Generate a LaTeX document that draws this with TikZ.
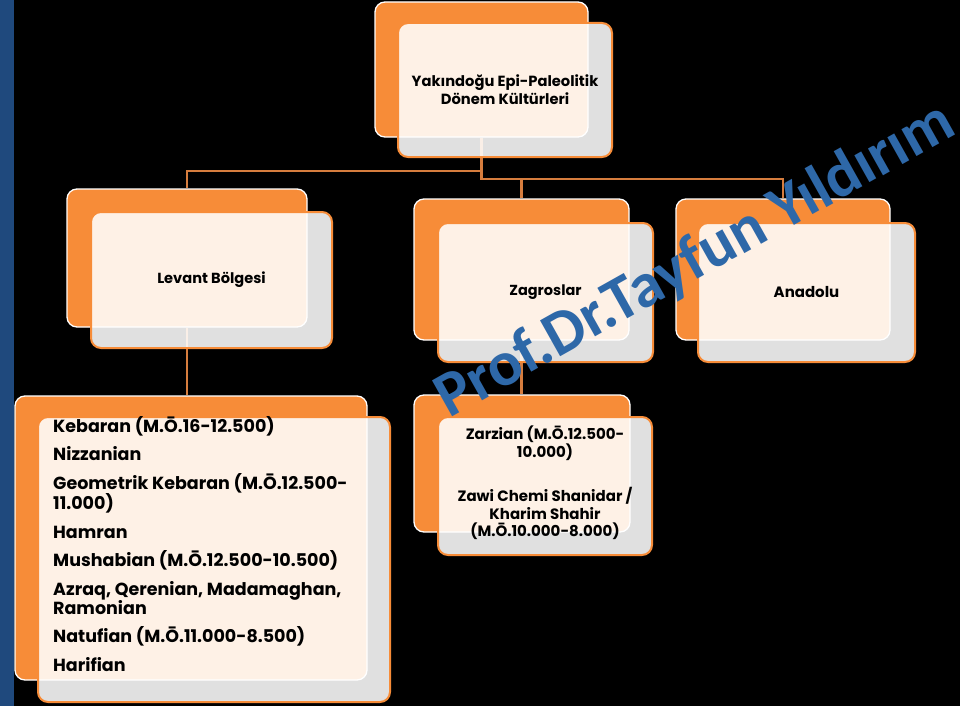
\documentclass[tikz,border=0pt]{standalone}
\usepackage{fontspec}
\setmainfont{Poppins}
\newfontfamily\wmfont{Carlito}
\definecolor{orng}{RGB}{247,140,56}
\definecolor{lineor}{RGB}{214,125,62}
\definecolor{wm}{RGB}{46,104,168}
\definecolor{barblue}{RGB}{31,73,125}
\pgfdeclarelayer{connlayer}
\pgfsetlayers{connlayer,main}
\tikzset{
  backbox/.style={draw=white, line width=1.3pt, fill=orng, rounded corners=10pt, inner sep=0pt},
  frontbox/.style={draw=orng, line width=2pt, fill=white, fill opacity=0.88, text opacity=1,
    rounded corners=10pt, inner sep=0pt, font=\bfseries, align=center},
  conn/.style={draw=lineor, line width=2.2pt},
}
\begin{document}
\begin{tikzpicture}[x=1pt,y=-1pt]
\useasboundingbox (0,0) rectangle (960,706);
% back boxes
\node[backbox, minimum width=213pt, minimum height=135pt] (topB) at (481.5,69.5) {};
\node[backbox, minimum width=240pt, minimum height=138pt] (levB) at (187,258) {};
\node[backbox, minimum width=215pt, minimum height=141pt] (zagB) at (521.5,269.5) {};
\node[backbox, minimum width=214pt, minimum height=141pt] (anaB) at (783,269.5) {};
\node[backbox, minimum width=352pt, minimum height=284pt] (listB) at (191,538) {};
\node[backbox, minimum width=216pt, minimum height=137pt] (zarB) at (522,463.5) {};
% front boxes
\node[frontbox, minimum width=214pt, minimum height=134pt, font=\bfseries\fontsize{14.7}{18}\selectfont] (topF) at (505,90) {Yakındoğu Epi-Paleolitik\\Dönem Kültürleri};
\node[frontbox, minimum width=241pt, minimum height=136pt, font=\bfseries\fontsize{14.6}{16}\selectfont] (levF) at (211.5,280) {Levant Bölgesi};
\node[frontbox, minimum width=215pt, minimum height=139pt, font=\bfseries\fontsize{14.5}{16}\selectfont] (zagF) at (545.5,292.5) {Zagroslar};
\node[frontbox, minimum width=217pt, minimum height=139pt, font=\bfseries\fontsize{15}{16}\selectfont] (anaF) at (806.5,292.5) {Anadolu};
\node[frontbox, minimum width=352pt, minimum height=285pt] (listF) at (214,559.5) {};
\node[frontbox, minimum width=214pt, minimum height=138pt] (zarF) at (545,486) {};
% texts
\node[anchor=north west, inner sep=0pt, align=left, font=\bfseries\fontsize{17.5}{19}\selectfont] (listT) at (53,416)
 {Kebaran (M.Ō.16-12.500)\\[9.5pt]
  Nizzanian\\[9.5pt]
  Geometrik Kebaran (M.Ō.12.500-\\
  11.000)\\[9.5pt]
  Hamran\\[9.5pt]
  Mushabian (M.Ō.12.500-10.500)\\[9.5pt]
  Azraq, Qerenian, Madamaghan,\\
  Ramonian\\[9.5pt]
  Natufian (M.Ō.11.000-8.500)\\[9.5pt]
  Harifian};
\node[inner sep=0pt, align=center, font=\bfseries\fontsize{15}{17.5}\selectfont] (zarT) at (545,483)
 {Zarzian (M.Ō.12.500-\\10.000)\\[27pt]
  Zawi Chemi Shanidar /\\Kharim Shahir\\(M.Ō.10.000-8.000)};
% background and connectors
\begin{pgfonlayer}{connlayer}
\fill[black] (0,0) rectangle (960,706);
\fill[barblue] (0,0) rectangle (14,706);
\draw[conn] (topB.south) -- ++(0,33) -| (levB.north);
\draw[conn] (topB.south) -- ++(0,41) -| (anaB.north);
\draw[conn] (topB.south) ++(0,41) -| (zagB.north);
\draw[conn] (levB.south) -- (levB.south |- listB.north);
\draw[conn] (zagB.south) -- (zagB.south |- zarB.north);
\end{pgfonlayer}
% watermark
\node[font=\wmfont\bfseries\fontsize{63.5}{64}\selectfont, text=wm, rotate=29.3, anchor=base, inner sep=0pt] (wmark) at (704,276) {Prof.Dr.Tayfun Yıldırım};
\end{tikzpicture}
\end{document}
